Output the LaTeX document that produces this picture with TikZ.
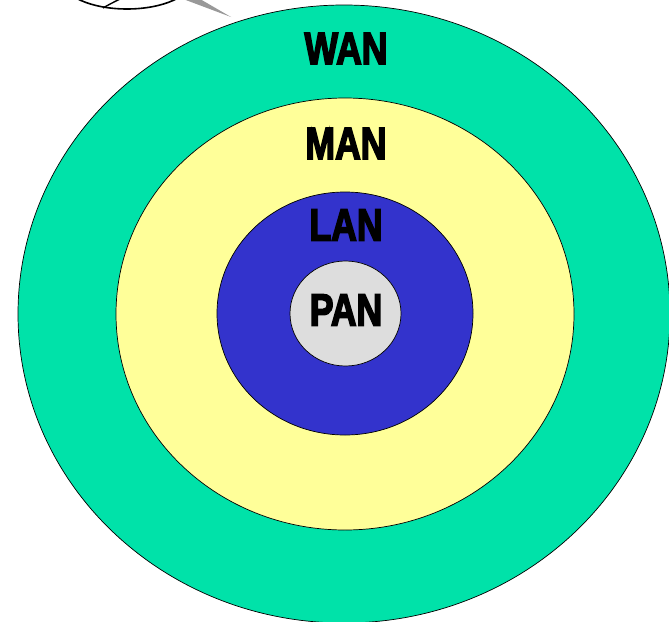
\documentclass[tikz,border=0pt]{standalone}
\usepackage{fontspec}
\usetikzlibrary{shapes.geometric}
\newfontfamily\heavy[FakeBold=4]{Liberation Sans Bold}
\definecolor{wan}{HTML}{00E2A9}
\definecolor{man}{HTML}{FFFF99}
\definecolor{lan}{HTML}{3333CC}
\definecolor{pan}{HTML}{DDDDDD}
\begin{document}
\begin{tikzpicture}[x=1pt,y=-1pt,
  ring/.style={draw=black,line width=0.7pt,ellipse,inner sep=0pt},
  lbl/.style={font=\heavy\fontsize{45}{45}\selectfont,text=black,inner sep=0pt,xscale=0.79}]
\useasboundingbox (0,0) rectangle (669,621);
\clip (0,0) rectangle (669,621);
% callout fragment
\fill[gray!80] (183,-1) -- (231,17) -- (200,-1) -- cycle;
\draw[line width=1.6pt] (127,-20) ellipse [x radius=65, y radius=29];
\draw[line width=1.4pt] (103,8) .. controls (108,5) and (114,2) .. (120,-1);
% rings
\node[ring,fill=wan,minimum width=652pt,minimum height=618pt] (wanring) at (344,314) {};
\node[ring,fill=man,minimum width=458pt,minimum height=432pt] (manring) at (345,314) {};
\node[ring,fill=lan,minimum width=256pt,minimum height=243pt] (lanring) at (345,313.5) {};
\node[ring,fill=pan,minimum width=111pt,minimum height=105pt] (panring) at (345.5,313.5) {};
% labels
\node[lbl] (wanlbl) at (346,48.5) {WAN};
\node[lbl] (manlbl) at (346,143.5) {MAN};
\node[lbl] (lanlbl) at (346,225) {LAN};
\node[lbl] (panlbl) at (346,310) {PAN};
\end{tikzpicture}
\end{document}
